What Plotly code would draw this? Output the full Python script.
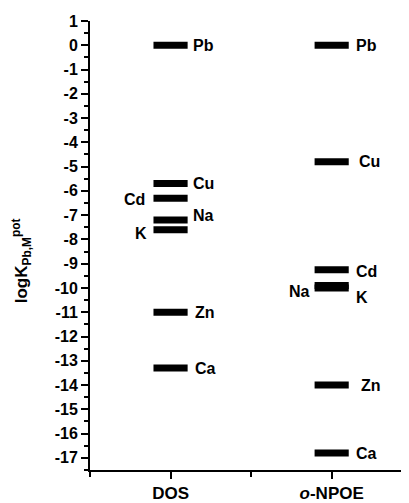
import plotly.graph_objects as go

# ---- data ----
membranes = ["DOS", "<i>o</i>-NPOE"]
ions = ["Pb", "Cu", "Cd", "Na", "K", "Zn", "Ca"]
dos_values = [0.0, -5.7, -6.3, -7.2, -7.6, -11.0, -13.3]
npoe_values = [0.0, -4.8, -9.25, -9.9, -10.0, -14.0, -16.8]
y_ticks = list(range(-17, 2))

# ---- styles ----
FONT = "Liberation Sans, Arial, sans-serif"
half_w = 0.106
bar_width = 7

# label placement: (side, xshift px, yshift px)
dos_label_pos = {
    "Pb": ("right", 3, 0), "Cu": ("right", 3, 0), "Cd": ("left", -6, -1),
    "Na": ("right", 3, 5), "K": ("left", -4, -4), "Zn": ("right", 5, 0), "Ca": ("right", 5, 0),
}
npoe_label_pos = {
    "Pb": ("right", 5, 0), "Cu": ("right", 8, 0), "Cd": ("right", 5, -2),
    "Na": ("left", -3, -6), "K": ("right", 5, -10), "Zn": ("right", 10, 0), "Ca": ("right", 5, 0),
}

fig = go.Figure()
annotations = []
for xpos, (vals, pos) in enumerate([(dos_values, dos_label_pos), (npoe_values, npoe_label_pos)], start=1):
    xs, ys = [], []
    for ion, v in zip(ions, vals):
        xs += [xpos - half_w, xpos + half_w, None]
        ys += [v, v, None]
        side, xs_px, ys_px = pos[ion]
        annotations.append(dict(
            x=xpos + (half_w if side == "right" else -half_w), y=v,
            xref="x", yref="y", text="<b>" + ion + "</b>", showarrow=False,
            xanchor="left" if side == "right" else "right", yanchor="middle",
            xshift=xs_px, yshift=ys_px,
            font=dict(family=FONT, size=16, color="black"),
        ))
    fig.add_trace(go.Scatter(x=xs, y=ys, mode="lines",
                             line=dict(color="black", width=bar_width),
                             showlegend=False, hoverinfo="skip"))

annotations.append(dict(
    x=-0.216, y=0.465, xref="paper", yref="paper",
    text="<b>logK<sub>Pb,M</sub><sup>pot</sup></b>", showarrow=False, textangle=-90,
    xanchor="center", yanchor="middle",
    font=dict(family=FONT, size=17, color="black"),
))

fig.update_layout(
    width=401, height=495,
    margin=dict(l=82, r=0, t=13, b=31),
    paper_bgcolor="white", plot_bgcolor="white",
    annotations=annotations,
    xaxis=dict(
        range=[0.5, 2.48], showgrid=False, zeroline=False,
        showline=True, linecolor="black", linewidth=2,
        tickmode="array", tickvals=[1, 2], ticktext=["<b>" + m + "</b>" for m in membranes],
        ticks="outside", ticklen=7, tickwidth=2, tickcolor="black",
        tickfont=dict(family=FONT, size=17, color="black"),
        minor=dict(tickvals=[0.5, 1.5, 2.5], ticks="outside", ticklen=5, tickwidth=2, tickcolor="black"),
    ),
    yaxis=dict(
        range=[-17.5, 1], showgrid=False, zeroline=False,
        showline=True, linecolor="black", linewidth=2,
        tickmode="array", tickvals=y_ticks, ticktext=["<b>%d</b>" % t for t in y_ticks],
        ticks="outside", ticklen=7, tickwidth=2, tickcolor="black",
        tickfont=dict(family=FONT, size=16, color="black"),
        minor=dict(tickvals=[t + 0.5 for t in range(-18, 1)], ticks="outside", ticklen=4, tickwidth=2, tickcolor="black"),
    ),
)

fig.write_html("out.html")
